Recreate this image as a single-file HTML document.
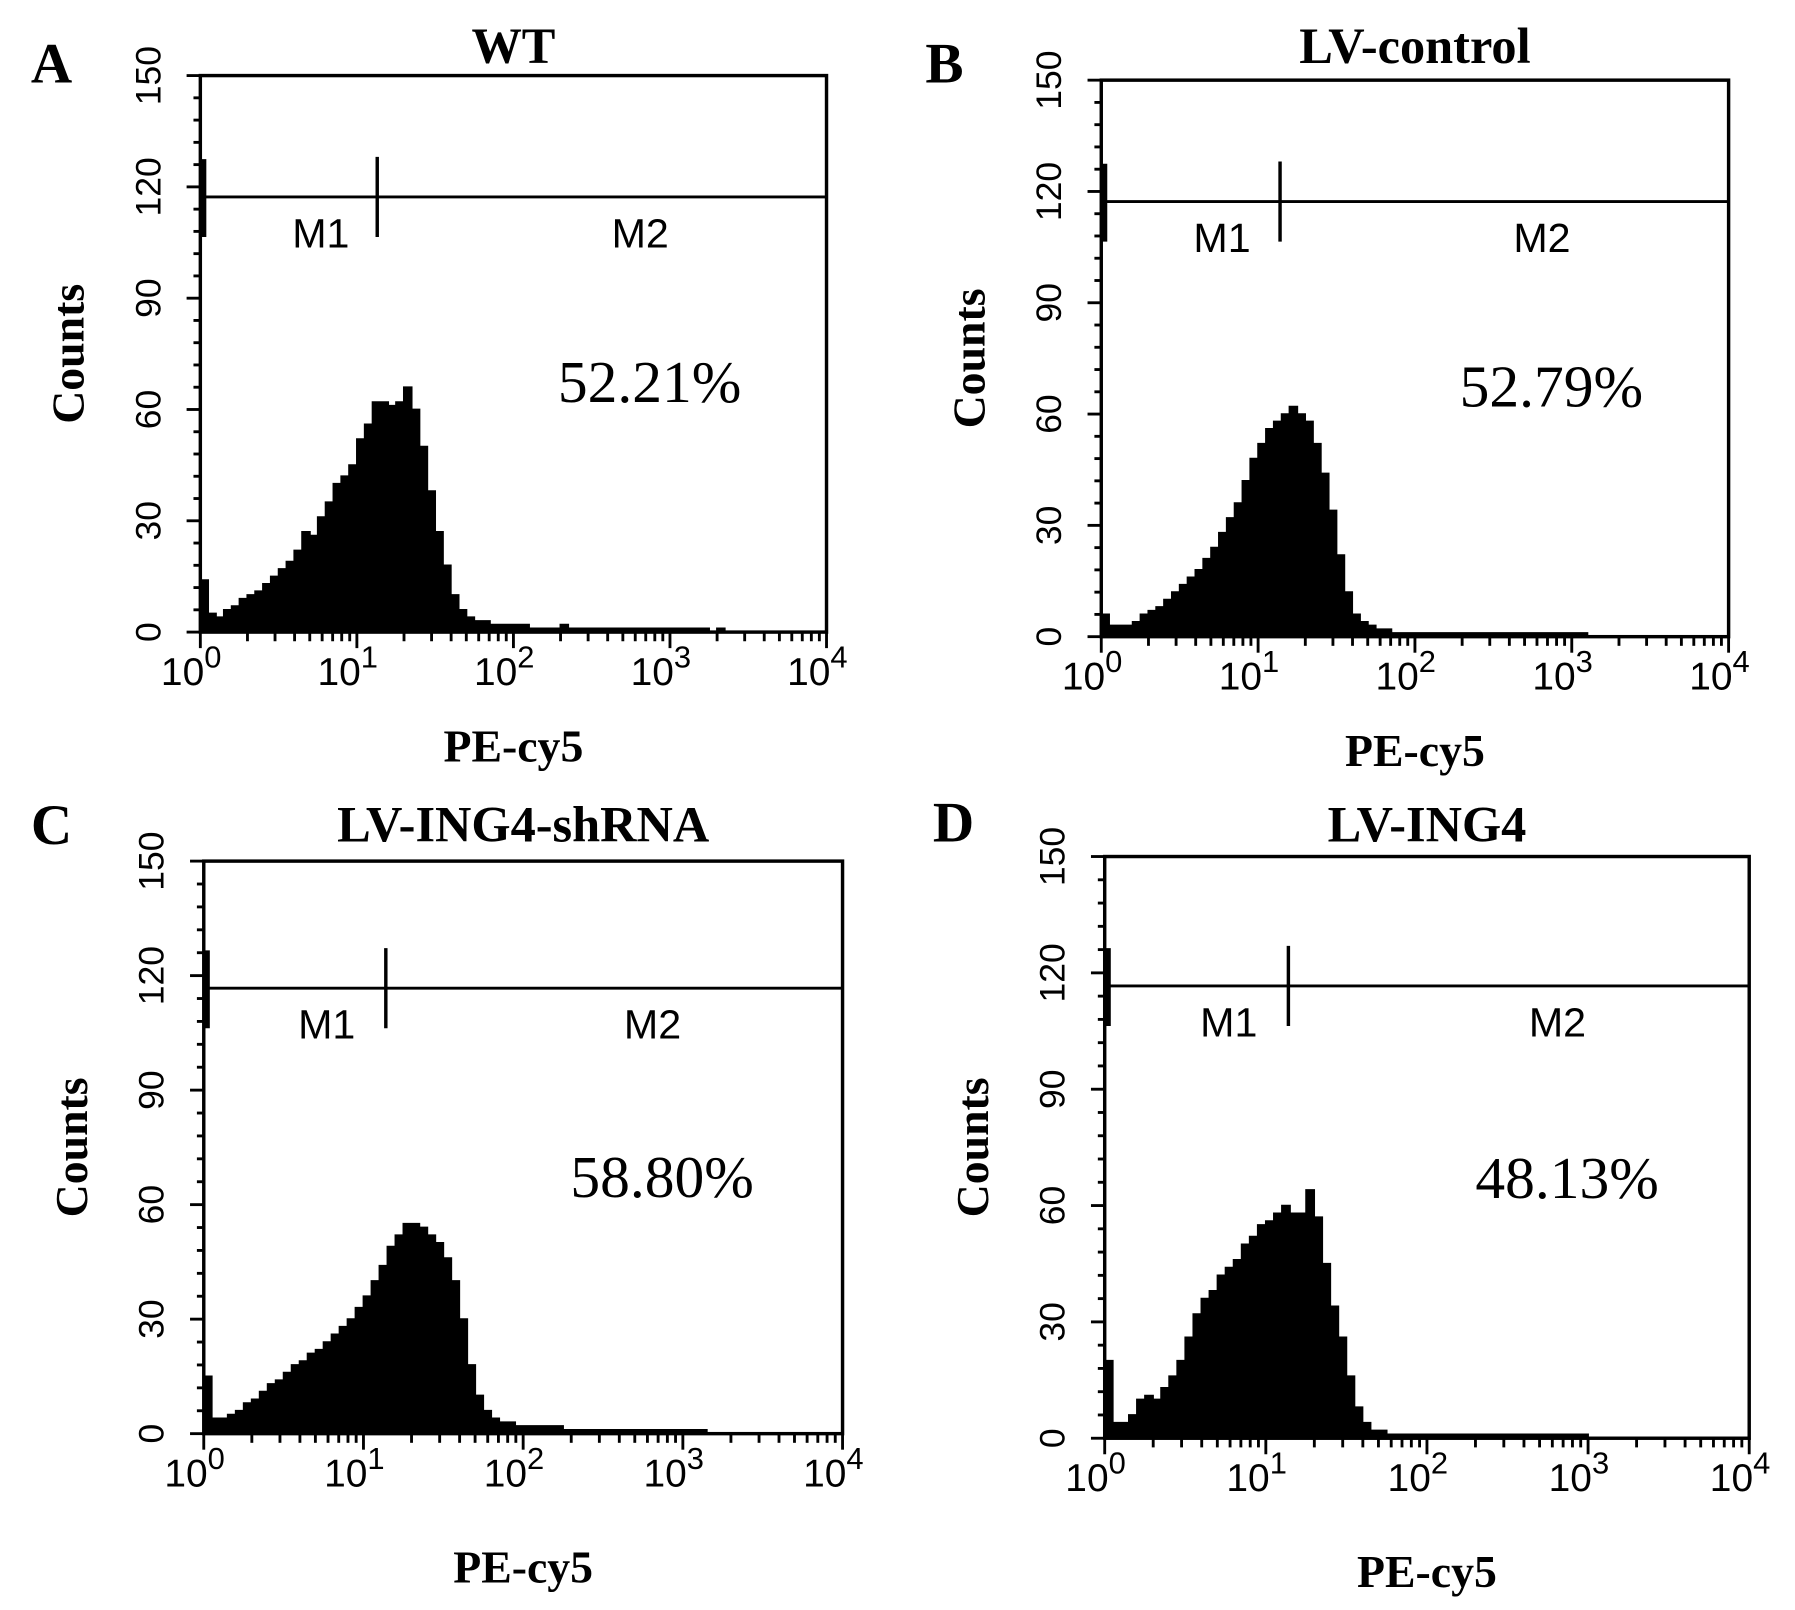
<!DOCTYPE html>
<html><head><meta charset="utf-8"><style>
html,body{margin:0;padding:0;background:#fff;}
svg{display:block;}
.ttl{font-family:"Liberation Serif",serif;font-weight:bold;font-size:44px;}
.plab{font-family:"Liberation Serif",serif;font-weight:bold;font-size:50px;}
.tick{font-family:"Liberation Sans",sans-serif;font-size:31px;}
.mk{font-family:"Liberation Sans",sans-serif;font-size:36px;}
.pct{font-family:"Liberation Serif",serif;font-size:52px;}
</style></head><body>
<svg id="fig" width="1795" height="1610" viewBox="0 0 1568 1406" preserveAspectRatio="none" xmlns="http://www.w3.org/2000/svg"></svg>
<script>
var panelLetters=["A","B","C","D"];
var panelTitles=["WT","LV-control","LV-ING4-shRNA","LV-ING4"];
var percentLabels=["52.21%","52.79%","58.80%","48.13%"];
var yTickLabels=["0","30","60","90","120","150"];
var xTickExps=["0","1","2","3","4"];
var gateDividerLog=[1.13,1.14,1.14,1.14];
var histA=[14,5,4,6,7,9,10,11,13,15,17,19,22,27,26,31,35,40,42,45,
52,56,62,62,61,62,66,60,50,38,27,18,10,6,4,3,3,2,2,2,
2,2,1,1,1,1,2,1,1,1,1,1,1,1,1,1,1,1,1,1,
1,1,1,1,1,0,1,0,0,0,0,0,0,0,0,0,0,0,0,0];
var histB=[6,3,3,3,4,6,7,8,10,12,14,16,18,21,24,28,32,36,42,48,
52,56,58,60,62,60,58,52,44,34,22,12,6,4,3,2,2,1,1,1,
1,1,1,1,1,1,1,1,1,1,1,1,1,1,1,1,1,1,1,1,
1,1,0,0,0,0,0,0,0,0,0,0,0,0,0,0,0,0,0,0];
var histC=[15,4,4,5,6,8,9,11,13,14,16,18,19,21,22,24,26,28,30,33,
36,40,44,49,52,55,55,54,52,50,46,40,30,18,10,6,4,3,3,2,
2,2,2,2,2,1,1,1,1,1,1,1,1,1,1,1,1,1,1,1,
1,1,1,0,0,0,0,0,0,0,0,0,0,0,0,0,0,0,0,0];
var histD=[20,4,4,6,10,11,10,13,16,20,26,32,36,38,42,44,46,50,52,55,
56,58,60,58,58,64,57,45,34,26,16,8,4,2,2,1,1,1,1,1,
1,1,1,1,1,1,1,1,1,1,1,1,1,1,1,1,1,1,1,1,
0,0,0,0,0,0,0,0,0,0,0,0,0,0,0,0,0,0,0,0];
var histograms=[histA,histB,histC,histD];

var layouts=[
 {x0:175,x1:722,y0:66,y1:552,lx:45,ly:72,gy:172,tly:40},
 {x0:962,x1:1510,y0:70,y1:556,lx:825,ly:72,gy:176,tly:40},
 {x0:178,x1:736,y0:752,y1:1252,lx:45,ly:737,gy:863,tly:720},
 {x0:965,x1:1528,y0:748,y1:1256,lx:833,ly:735,gy:861,tly:720}
];
var NS="http://www.w3.org/2000/svg";
var svg=document.getElementById('fig');
function mk(tag,attrs,parent){var e=document.createElementNS(NS,tag);for(var k in attrs)e.setAttribute(k,attrs[k]);(parent||svg).appendChild(e);return e;}

layouts.forEach(function(L,p){
 var g=mk('g',{});
 
 
 function xs(lg){return L.x0+(L.x1-L.x0)*lg/4;}
 function ys(v){return L.y1-(L.y1-L.y0)*v/150;}
 var h=histograms[p],bw=4/h.length;
 var d='M'+xs(0)+','+ys(0);
 for(var i=0;i<h.length;i++){d+=' L'+xs(i*bw)+','+ys(h[i])+' L'+xs((i+1)*bw)+','+ys(h[i]);}
 d+=' L'+xs(4)+','+ys(0)+' Z';
 var hp=mk('path',{d:d,fill:'#000',stroke:'#000','stroke-width':1.5},g);
 
 
 var box=mk('rect',{x:L.x0,y:L.y0,width:L.x1-L.x0,height:L.y1-L.y0,fill:'none',stroke:'#000','stroke-width':3},g);
 
 
 for(var v=0;v<=150;v+=6){var len=(v%30==0)?12:6;mk('line',{x1:L.x0-len,x2:L.x0,y1:ys(v),y2:ys(v),stroke:'#000','stroke-width':2.5},g);}
 yTickLabels.forEach(function(t){
  var tx=mk('text',{x:0,y:0,'class':'tick','text-anchor':'middle',transform:'translate('+(L.x0-35)+','+ys(+t)+') rotate(-90)'},g);
  tx.textContent=t;
  
  
 });
 for(var dcd=0;dcd<4;dcd++){for(var m=1;m<10;m++){var lg=dcd+Math.log10(m);var len=(m==1)?14:8;mk('line',{x1:xs(lg),x2:xs(lg),y1:L.y1,y2:L.y1+len,stroke:'#000','stroke-width':2.5},g);}}
 mk('line',{x1:xs(4),x2:xs(4),y1:L.y1,y2:L.y1+14,stroke:'#000','stroke-width':2.5},g);
 xTickExps.forEach(function(e){
  var tx=mk('text',{x:xs(+e)-8,y:L.y1+46,'class':'tick','text-anchor':'middle'},g);
  tx.setAttribute('style','font-size:34px');
  tx.textContent='10';
  var sp=mk('tspan',{dy:-15,'font-size':'27px'},tx);sp.textContent=e;
  
  
 });
 var gl=mk('line',{x1:xs(0.02),x2:L.x1,y1:L.gy,y2:L.gy,stroke:'#000','stroke-width':2.5},g);
 
 
 mk('line',{x1:xs(0.02),x2:xs(0.02),y1:L.gy-33,y2:L.gy+35,stroke:'#000','stroke-width':5},g);
 var dv=xs(gateDividerLog[p]);
 mk('line',{x1:dv,x2:dv,y1:L.gy-35,y2:L.gy+35,stroke:'#000','stroke-width':3},g);
 var m1=mk('text',{x:xs(0.77),y:L.gy+44,'class':'mk','text-anchor':'middle'},g);m1.textContent='M1';
 
 
 var m2=mk('text',{x:xs(2.81),y:L.gy+44,'class':'mk','text-anchor':'middle'},g);m2.textContent='M2';
 
 
 var pc=mk('text',{x:xs(2.87),y:ys(62),'class':'pct','text-anchor':'middle'},g);pc.textContent=percentLabels[p];
 
 
 var tt=mk('text',{x:(L.x0+L.x1)/2,y:L.tly+15,'class':'ttl','text-anchor':'middle'},g);tt.textContent=panelTitles[p];
 
 
 var pl=mk('text',{x:L.lx,y:L.ly,'class':'plab','text-anchor':'middle'},g);pl.textContent=panelLetters[p];
 
 
 var yl=mk('text',{x:0,y:0,'class':'ttl','text-anchor':'middle',transform:'translate('+(L.x0-102)+','+((L.y0+L.y1)/2)+') rotate(-90)'},g);
 yl.setAttribute('style','font-size:40px');yl.textContent='Counts';
 
 
 var xl=mk('text',{x:(L.x0+L.x1)/2,y:(p<2?L.y1+113:L.y1+130),'class':'ttl','text-anchor':'middle'},g);
 xl.setAttribute('style','font-size:40px');xl.textContent='PE-cy5';
 
 
});
</script>
</body></html>
